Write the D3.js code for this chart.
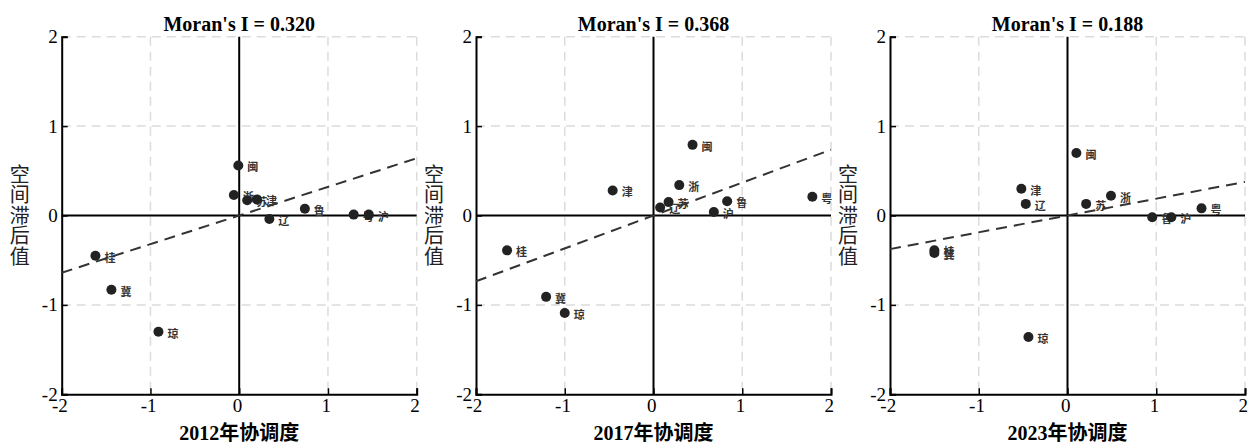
<!DOCTYPE html>
<html>
<head>
<meta charset="utf-8">
<script src="https://cdn.jsdelivr.net/npm/d3@7"></script>
<style>
  body { margin: 0; background: #fff; }
</style>
</head>
<body>
<div id="chart"></div>
<script>
// data
const years = ["2012", "2017", "2023"];
const moranI = [0.320, 0.368, 0.188];
const provinces = ["闽", "浙", "苏", "津", "辽", "鲁", "粤", "沪", "桂", "冀", "琼"];

const x2012 = [-0.01, -0.06, 0.09, 0.20, 0.34, 0.74, 1.29, 1.46, -1.62, -1.44, -0.91];
const y2012 = [0.56, 0.23, 0.17, 0.18, -0.04, 0.075, 0.01, 0.01, -0.45, -0.83, -1.30];

const x2017 = [0.44, 0.29, 0.17, -0.46, 0.075, 0.83, 1.79, 0.68, -1.65, -1.21, -1.00];
const y2017 = [0.79, 0.34, 0.15, 0.28, 0.09, 0.16, 0.21, 0.04, -0.39, -0.91, -1.09];

const x2023 = [0.10, 0.49, 0.21, -0.52, -0.47, 0.955, 1.51, 1.17, -1.50, -1.50, -0.44];
const y2023 = [0.70, 0.22, 0.13, 0.30, 0.13, -0.02, 0.08, -0.02, -0.39, -0.42, -1.36];

const tickVals = [-2, -1, 0, 1, 2];
const gridVals = [-1, 1, 2];

const xs = [x2012, x2017, x2023];
const ys = [y2012, y2017, y2023];

const W = 1249, H = 445;
const panelLeft = [61.7, 476, 890];
const panelTop = 36.7, pw = 355, ph = 357.6;

const serif = "'Liberation Serif', 'Times New Roman', serif";
const cjk = "'Noto Sans CJK SC', sans-serif";

const svg = d3.select("#chart").append("svg")
  .attr("width", W)
  .attr("height", H);

years.forEach(function(yr, i) {
  const g = svg.append("g")
    .attr("transform", "translate(" + panelLeft[i] + "," + panelTop + ")");

  const x = d3.scaleLinear().domain([-2, 2]).range([0, pw]);
  const y = d3.scaleLinear().domain([-2, 2]).range([ph, 0]);

  // dashed grid
  g.selectAll(".gx").data(gridVals).enter().append("line")
    .attr("x1", d => x(d)).attr("x2", d => x(d))
    .attr("y1", 0).attr("y2", ph)
    .attr("stroke", "#dcdcdc").attr("stroke-width", 1.5)
    .attr("stroke-dasharray", "9,6");
  g.selectAll(".gy").data(gridVals).enter().append("line")
    .attr("y1", d => y(d)).attr("y2", d => y(d))
    .attr("x1", 0).attr("x2", pw)
    .attr("stroke", "#dcdcdc").attr("stroke-width", 1.5)
    .attr("stroke-dasharray", "9,6");

  // zero lines
  g.append("line")
    .attr("x1", x(0)).attr("x2", x(0)).attr("y1", 0).attr("y2", ph)
    .attr("stroke", "#000").attr("stroke-width", 2);
  g.append("line")
    .attr("x1", 0).attr("x2", pw).attr("y1", y(0)).attr("y2", y(0))
    .attr("stroke", "#000").attr("stroke-width", 2);

  // axes (plain hyphen for negatives, like the source)
  const fmt = d => String(d);
  const xAxis = g.append("g")
    .attr("transform", "translate(0," + ph + ")")
    .call(d3.axisBottom(x).tickValues(tickVals).tickSize(-6).tickPadding(4).tickFormat(fmt));
  const yAxis = g.append("g")
    .call(d3.axisLeft(y).tickValues(tickVals).tickSize(-6).tickPadding(4).tickFormat(fmt));
  [xAxis, yAxis].forEach(function(a) {
    a.attr("font-family", serif).attr("font-size", 19);
    a.select(".domain").attr("stroke", "#000").attr("stroke-width", 2);
    a.selectAll(".tick line").attr("stroke", "#000").attr("stroke-width", 1.5);
    a.selectAll("text")
      .attr("fill", "#000")
      .style("font-family", serif)
      .style("font-size", "19px");
  });
  xAxis.selectAll("text").attr("dx", "-0.12em");
  yAxis.selectAll("text").attr("dy", "0.32em");

  // regression line, slope = Moran's I
  g.append("line")
    .attr("x1", x(-2)).attr("y1", y(-2 * moranI[i]))
    .attr("x2", x(2)).attr("y2", y(2 * moranI[i]))
    .attr("stroke", "#333").attr("stroke-width", 2)
    .attr("stroke-dasharray", "11,7");

  const pts = provinces.map((p, k) => ({ name: p, x: xs[i][k], y: ys[i][k] }));

  // labels (under the dots)
  g.selectAll(".lab").data(pts).enter().append("text")
    .attr("x", d => x(d.x) + 9)
    .attr("y", d => y(d.y) + 1)
    .attr("dominant-baseline", "central")
    .style("font-family", cjk)
    .style("font-size", "11px")
    .style("font-weight", "bold")
    .attr("fill", "#333")
    .text(d => d.name);

  g.selectAll(".pt").data(pts).enter().append("circle")
    .attr("cx", d => x(d.x))
    .attr("cy", d => y(d.y))
    .attr("r", 5)
    .attr("fill", "#222");

  // title
  g.append("text")
    .attr("x", pw / 2).attr("y", -6)
    .attr("text-anchor", "middle")
    .style("font-family", serif)
    .style("font-size", "20px")
    .style("font-weight", "bold")
    .text("Moran's I = " + moranI[i].toFixed(3));

  // x label
  g.append("text")
    .attr("x", pw / 2).attr("y", ph + 46)
    .attr("text-anchor", "middle")
    .style("font-family", serif + ", " + cjk)
    .style("font-size", "20px")
    .style("font-weight", "bold")
    .text(yr + "年协调度");

  // y label, written vertically
  g.append("text")
    .attr("x", -42)
    .attr("y", y(0))
    .attr("text-anchor", "middle")
    .style("writing-mode", "vertical-rl")
    .style("font-family", cjk)
    .style("font-size", "20px")
    .style("letter-spacing", "0.5px")
    .attr("fill", "#222")
    .text("空间滞后值");
});
</script>
</body>
</html>
